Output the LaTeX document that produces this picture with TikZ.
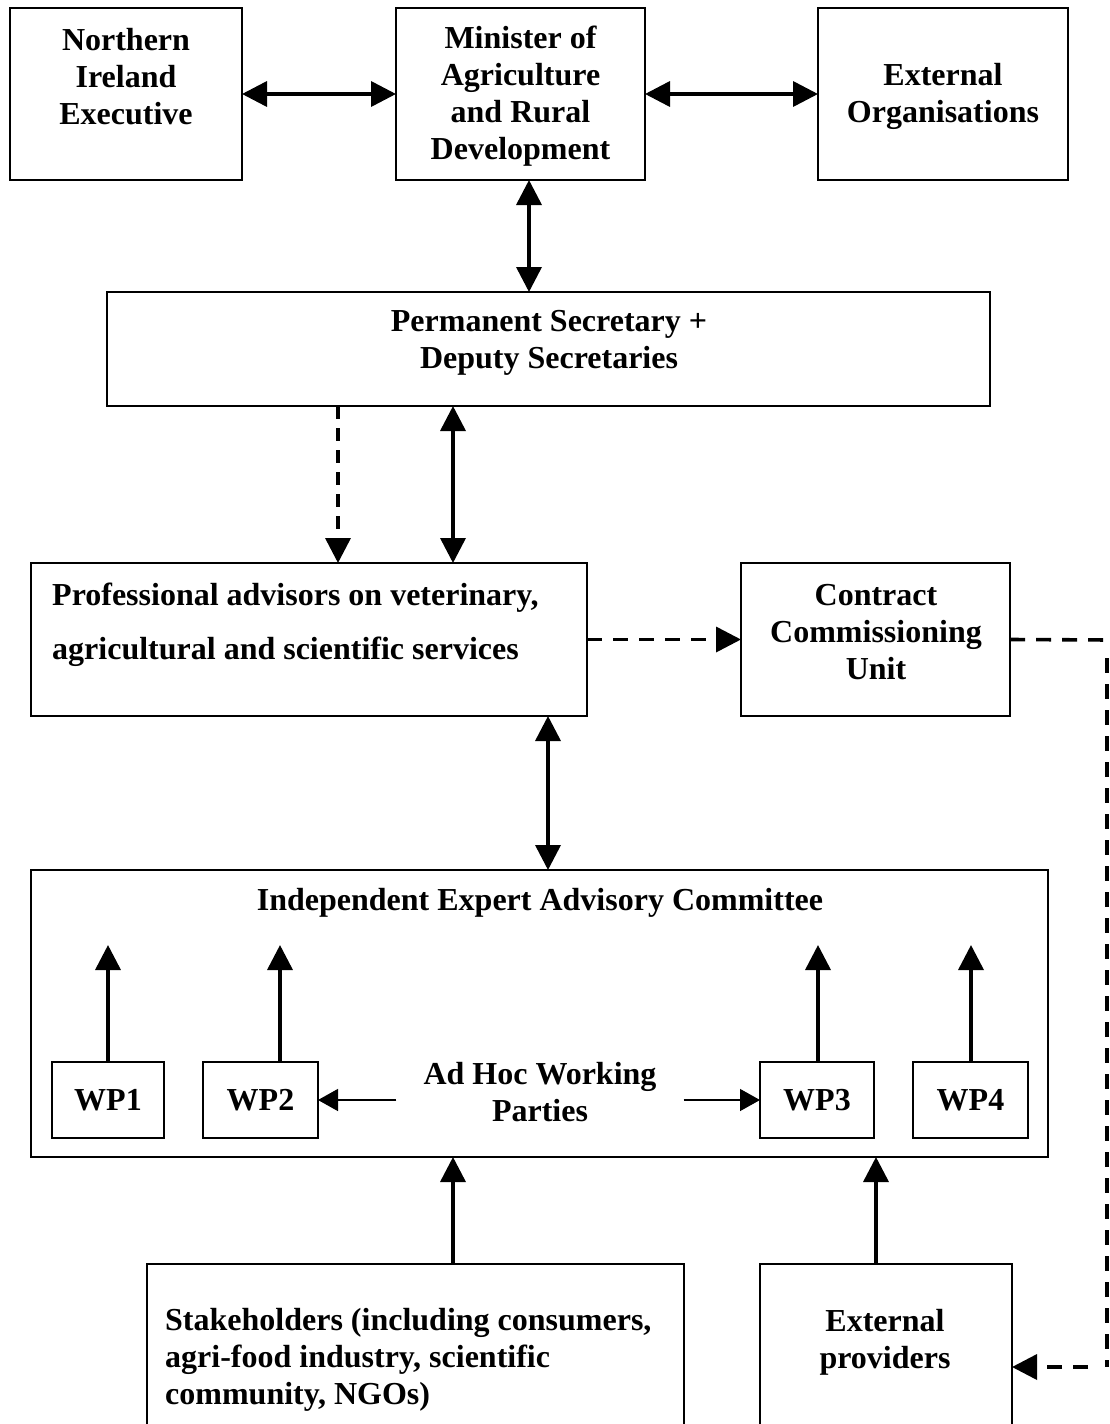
\documentclass[tikz,border=0pt]{standalone}
\usepackage{fontspec}
\setmainfont{Liberation Serif}
\usetikzlibrary{arrows.meta,calc}
\begin{document}
\begin{tikzpicture}[x=1pt,y=-1pt,
  font=\fontsize{32}{37}\selectfont\bfseries,
  box/.style={draw,line width=1.8pt,inner sep=0pt,outer sep=0pt},
  txt/.style={inner sep=0pt,align=center},
  big/.style={-{Triangle[length=25pt,width=25pt]},line width=3.6pt},
  bigboth/.style={{Triangle[length=25pt,width=25pt]}-{Triangle[length=25pt,width=25pt]},line width=3.6pt},
  thinarr/.style={-{Triangle[length=20pt,width=22pt]},line width=1.4pt},
  dashline/.style={dash pattern=on 15pt off 11pt,line width=3.6pt}]
\clip (0,0) rectangle (1109,1424);
\fill[white] (0,0) rectangle (1109,1424);

% top row
\node[box,minimum width=232,minimum height=172] (nie) at (126,94) {};
\node[box,minimum width=249,minimum height=172] (mard) at (520.5,94) {};
\node[box,minimum width=250,minimum height=172] (extorg) at (943,94) {};
\node[txt] (nietxt) at (126,77) {Northern\\Ireland\\Executive};
\node[txt] (mardtxt) at (520.5,96) {Minister of\\Agriculture\\and Rural\\Development};
\node[txt] (extorgtxt) at (943,96) {External\\Organisations};

% secretaries
\node[box,minimum width=883,minimum height=114] (perm) at (548.5,349) {};
\node[txt] (permtxt) at (549,343) {Permanent Secretary +\\Deputy Secretaries};

% advisors and commissioning
\node[box,minimum width=556,minimum height=153] (prof) at (309,639.5) {};
\node[txt,anchor=west,align=left,font=\fontsize{32}{54}\selectfont\bfseries] (proftxt) at (52,625)
  {Professional advisors on veterinary,\\agricultural and scientific services};
\node[box,minimum width=269,minimum height=153] (ccu) at (875.5,639.5) {};
\node[txt] (ccutxt) at (876,632) {Contract\\Commissioning\\Unit};

% committee
\node[box,minimum width=1017,minimum height=287] (ieac) at (539.5,1013.5) {};
\node[txt] (ieactxt) at (540,903) {Independent Expert Advisory Committee};
\node[box,minimum width=112,minimum height=76] (wp1) at (108,1100) {WP1};
\node[box,minimum width=115,minimum height=76] (wp2) at (260.5,1100) {WP2};
\node[box,minimum width=114,minimum height=76] (wp3) at (817,1100) {WP3};
\node[box,minimum width=115,minimum height=76] (wp4) at (970.5,1100) {WP4};
\node[txt,inner xsep=27pt] (adhoc) at (540,1092) {Ad Hoc Working\\Parties};
\coordinate (wp1top) at (108,945);
\coordinate (wp2top) at (280,945);
\coordinate (wp3top) at (818,945);
\coordinate (wp4top) at (971,945);

% bottom row
\node[box,minimum width=537,minimum height=180] (stake) at (415.5,1354) {};
\node[txt,anchor=west,align=left] (staketxt) at (165,1360)
  {Stakeholders (including consumers,\\agri-food industry, scientific\\community, NGOs)};
\node[box,minimum width=252,minimum height=180] (extprov) at (886,1354) {};
\node[txt] (extprovtxt) at (885,1342) {External\\providers};

% connectors
\draw[bigboth] (nie.east) -- (mard.west);
\draw[bigboth] (mard.east) -- (extorg.west);
\draw[bigboth] (mard.south -| 529,0) -- (perm.north -| 529,0);
\draw[big,dash pattern=on 13pt off 9pt] (perm.south -| 338,0) -- (prof.north -| 338,0);
\draw[bigboth] (perm.south -| 453,0) -- (prof.north -| 453,0);
\draw[big,dashline] (prof.east) -- (ccu.west);
\draw[bigboth] (prof.south -| 548,0) -- (ieac.north -| 548,0);
\draw[big] (wp1.north) -- (wp1top);
\draw[big] (wp2.north -| wp2top) -- (wp2top);
\draw[big] (wp3.north -| wp3top) -- (wp3top);
\draw[big] (wp4.north -| wp4top) -- (wp4top);
\draw[thinarr] (adhoc.west |- wp2.east) -- (wp2.east);
\draw[thinarr] (adhoc.east |- wp3.west) -- (wp3.west);
\draw[big] (stake.north -| 453,0) -- (ieac.south -| 453,0);
\draw[big] (extprov.north -| 876,0) -- (ieac.south -| 876,0);
\draw[dashline] (ccu.east) -- (1112,640);
\coordinate (turn) at (1107,1367);
\draw[dashline,line width=4.5pt] (1107,658) -- (turn);
\draw[big,dashline] (1088,1367) -- (extprov.east |- turn);
\end{tikzpicture}
\end{document}
